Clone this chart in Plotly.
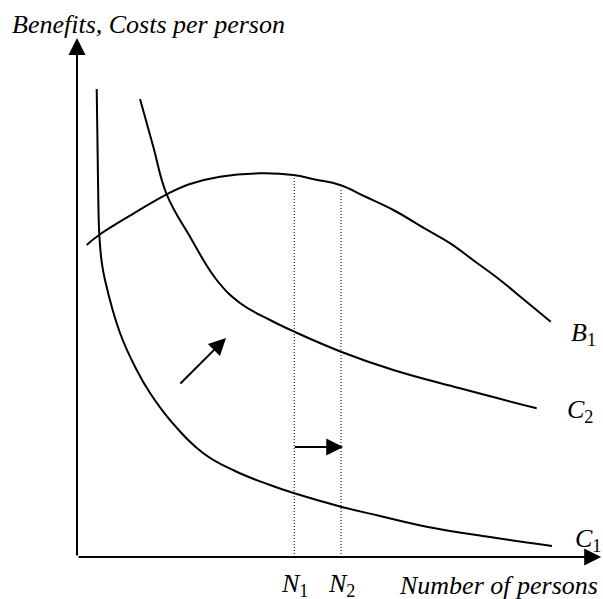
import plotly.graph_objects as go

# ---- data (arbitrary units: x = number of persons, y = benefits / costs per person)
c1_x = [3.79, 4.04, 4.29, 4.75, 5.38, 8.27, 11.48, 14.04, 17.88, 24.23, 30.38, 37.12, 41.79, 50.77, 58.27, 67.25, 79.42, 91.35]
c1_y = [93.6, 75.4, 64.4, 59.0, 55.4, 44.8, 37.4, 32.8, 27.4, 20.8, 17.2, 14.4, 12.74, 10.06, 8.2, 6.06, 4.0, 2.2]

c2_x = [12.12, 14.67, 17.25, 21.73, 26.87, 31.35, 37.12, 41.79, 50.77, 60.83, 73.65, 88.40]
c2_y = [91.6, 82.06, 72.54, 64.06, 55.4, 50.8, 47.4, 45.06, 41.06, 37.4, 33.74, 29.74]

b1_x = [1.87, 4.23, 11.48, 17.25, 21.73, 27.5, 35.19, 41.6, 45.77, 50.58, 55.38, 60.83, 66.92, 71.79, 76.54, 81.35, 86.15, 91.1]
b1_y = [62.4, 64.4, 69.06, 72.54, 74.6, 76.06, 76.74, 76.4, 75.5, 74.4, 72.1, 69.4, 65.68, 62.74, 59.1, 55.4, 51.3, 47.06]

n_x = [41.79, 50.77]          # N1, N2
n_top = [76.4, 73.8]          # where the dotted lines meet B1
n_labels = ["<i>N</i><sub>1</sub>", "<i>N</i><sub>2</sub>"]

curve_labels = ["<i>B</i><sub>1</sub>", "<i>C</i><sub>2</sub>", "<i>C</i><sub>1</sub>"]
curve_label_x = [94.7, 93.9, 95.4]
curve_label_y = [44.6, 29.3, 3.4]

axis_tip_x = 100.8
axis_tip_y = 103.8

shift_arrow = [(19.6, 34.4), (28.65, 43.8)]     # cost curve shifts up
n_arrow = [(41.6, 22.0), (51.2, 22.0)]          # N1 -> N2

y_title = "<i>Benefits, Costs per person</i>"
x_title = "<i>Number of persons</i>"

FONT = "Liberation Serif, Times New Roman, serif"
FS = 26
BLACK = "black"

fig = go.Figure()
for xs, ys in [(c1_x, c1_y), (c2_x, c2_y), (b1_x, b1_y)]:
    fig.add_trace(go.Scatter(x=xs, y=ys, mode="lines",
                             line=dict(color=BLACK, width=2, shape="spline", smoothing=1.2),
                             hoverinfo="skip", showlegend=False))

for nx, nt in zip(n_x, n_top):
    fig.add_trace(go.Scatter(x=[nx, nx], y=[0, nt], mode="lines",
                             line=dict(color=BLACK, width=1, dash="1px,2px"),
                             hoverinfo="skip", showlegend=False))

ann = []
arrow_style = dict(xref="x", yref="y", axref="x", ayref="y", text="", showarrow=True,
                   arrowhead=2, arrowsize=1.7, arrowwidth=2, arrowcolor=BLACK)
# axes as arrows
ann.append(dict(x=0, y=axis_tip_y, ax=0, ay=0, **arrow_style))
ann.append(dict(x=axis_tip_x, y=0, ax=0, ay=0, **arrow_style))
for (sx, sy), (ex, ey) in [shift_arrow, n_arrow]:
    ann.append(dict(x=ex, y=ey, ax=sx, ay=sy, **arrow_style))

for t, lx, ly in zip(curve_labels, curve_label_x, curve_label_y):
    ann.append(dict(x=lx, y=ly, xref="x", yref="y", text=t, showarrow=False,
                    xanchor="left", yanchor="middle", font=dict(family=FONT, size=FS, color=BLACK)))
for t, nx in zip(n_labels, n_x):
    ann.append(dict(x=nx, y=-5.6, xref="x", yref="y", text=t, showarrow=False,
                    xanchor="center", yanchor="middle", font=dict(family=FONT, size=FS, color=BLACK)))
ann.append(dict(x=61.6, y=-5.6, xref="x", yref="y", text=x_title, showarrow=False,
                xanchor="left", yanchor="middle", font=dict(family=FONT, size=FS, color=BLACK)))
ann.append(dict(x=-12.8, y=106.6, xref="x", yref="y", text=y_title, showarrow=False,
                xanchor="left", yanchor="middle", font=dict(family=FONT, size=FS, color=BLACK)))

fig.update_layout(
    width=603, height=599,
    margin=dict(l=0, r=0, t=0, b=0),
    paper_bgcolor="white", plot_bgcolor="white",
    xaxis=dict(range=[-14.808, 101.154], visible=False, fixedrange=True),
    yaxis=dict(range=[-8.4, 111.4], visible=False, fixedrange=True),
    annotations=ann,
    showlegend=False,
)
fig.write_html("out.html", config={"displayModeBar": False},
               post_script="document.body.style.margin='0';document.body.style.overflow='hidden';")
